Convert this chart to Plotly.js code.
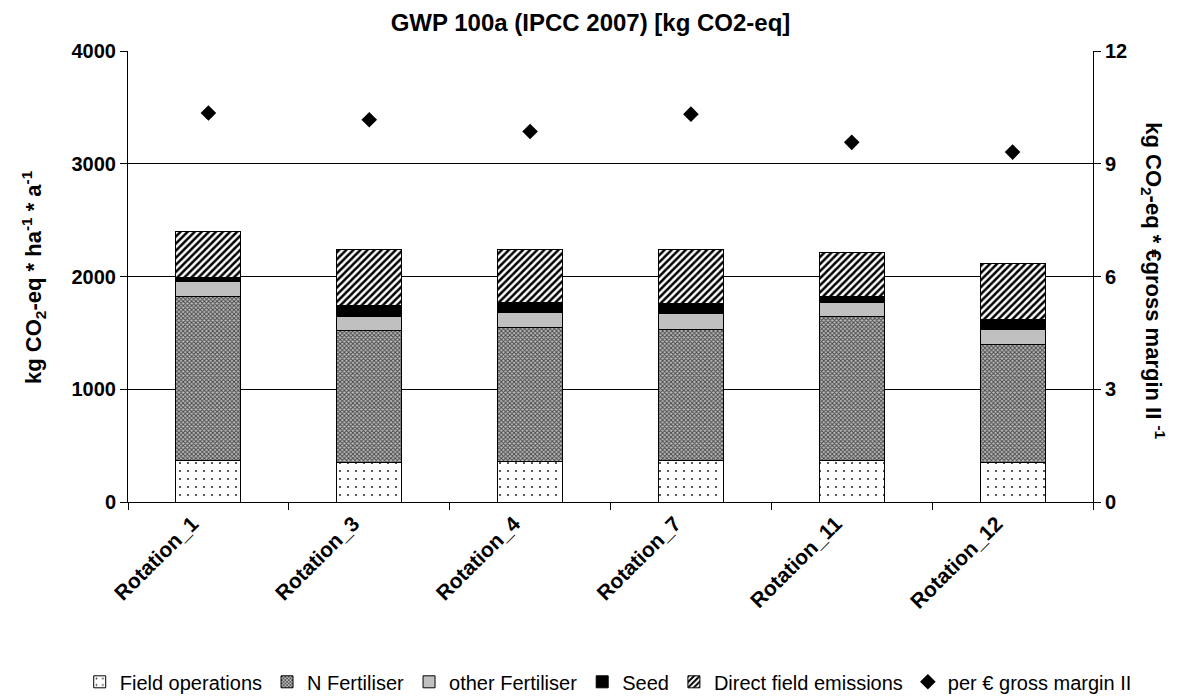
<!DOCTYPE html>
<html>
<head>
<meta charset="utf-8">
<script src="https://cdn.plot.ly/plotly-3.0.1.min.js"></script>
<style>html,body{margin:0;padding:0;background:#fff;}#chart{width:1181px;height:700px;}</style>
</head>
<body>
<div id="chart"></div>
<script>
const categories = ["Rotation_1","Rotation_3","Rotation_4","Rotation_7","Rotation_11","Rotation_12"];
const fieldOperations = [372, 352, 361, 364, 366, 346];
const nFertiliser = [1451, 1169, 1183, 1168, 1279, 1055];
const otherFertiliser = [133, 124, 139, 142, 124, 126];
const seed = [39, 95, 86, 89, 54, 89];
const directFieldEmissions = [404, 497, 473, 479, 390, 497];
const perGrossMargin = [10.35, 10.17, 9.86, 10.32, 9.57, 9.31];

const FONT = "Arial, 'Liberation Sans', sans-serif";
const barLine = {color: "#000", width: 1};

// page geometry: plot area spans x 128..1093, y 51..502
const W = 1181, H = 700, ML = 16, MR = 16;
const innerW = W - ML - MR;
const domX = [(128 - ML) / innerW, (1093 - ML) / innerW];

const traces = [
  {type: "bar", name: "Field operations", x: categories, y: fieldOperations,
   marker: {color: "#fff", line: barLine,
            pattern: {shape: ".", fgcolor: "#333", bgcolor: "#fff", size: 8, solidity: 0.06}}},
  {type: "bar", name: "N Fertiliser", x: categories, y: nFertiliser,
   marker: {color: "#777", line: barLine,
            pattern: {shape: "x", fgcolor: "#444", bgcolor: "#bbb", size: 3, solidity: 0.5}}},
  {type: "bar", name: "other Fertiliser", x: categories, y: otherFertiliser,
   marker: {color: "#c0c0c0", line: barLine}},
  {type: "bar", name: "Seed", x: categories, y: seed,
   marker: {color: "#000", line: barLine}},
  {type: "bar", name: "Direct field emissions", x: categories, y: directFieldEmissions,
   marker: {color: "#fff", line: barLine,
            pattern: {shape: "/", fgcolor: "#000", bgcolor: "#fff", size: 5, solidity: 0.5}}},
  {type: "scatter", mode: "markers", name: "per € gross margin II", x: categories, y: perGrossMargin,
   yaxis: "y2", marker: {symbol: "diamond", size: 12, color: "#000"}}
];

const layout = {
  width: W, height: H,
  margin: {l: ML, r: MR, t: 51, b: 198},
  paper_bgcolor: "#fff", plot_bgcolor: "#fff",
  font: {family: FONT, color: "#000", size: 18},
  barmode: "stack", bargap: 0.595,
  title: {text: "GWP 100a (IPCC 2007) [kg CO2-eq]", font: {family: FONT, size: 24, weight: "bold", color: "#000"},
          x: 0.5, xref: "container", xanchor: "center", y: 0.968, yref: "container", yanchor: "middle"},
  xaxis: {type: "category", domain: domX, tickson: "boundaries", ticks: "outside", ticklen: 7, tickcolor: "#000",
          showline: true, linecolor: "#000", linewidth: 1, showgrid: false, tickangle: -45,
          ticklabelstandoff: 0, ticklabelshift: -16,
          tickfont: {family: FONT, size: 21, weight: "bold", color: "#000"}},
  yaxis: {range: [0, 4000], tickvals: [0, 1000, 2000, 3000, 4000], ticks: "outside", ticklen: 7, tickcolor: "#000",
          showline: true, linecolor: "#000", linewidth: 1, showgrid: true, gridcolor: "#000", gridwidth: 1,
          zeroline: false, tickfont: {family: FONT, size: 20, weight: "bold", color: "#000"}},
  yaxis2: {range: [0, 12], tickvals: [0, 3, 6, 9, 12], overlaying: "y", side: "right", anchor: "x", ticks: "outside", ticklen: 7,
           tickcolor: "#000", showline: true, linecolor: "#000", linewidth: 1, showgrid: false, zeroline: false,
           tickfont: {family: FONT, size: 20, weight: "bold", color: "#000"}},
  legend: {orientation: "h", xref: "container", x: 0.515, xanchor: "center", yref: "container", y: 0.026, yanchor: "middle",
           traceorder: "normal", itemwidth: 30, font: {family: FONT, size: 20, color: "#000"}},
  showlegend: true,
  annotations: [
    {text: "kg CO<sub>2</sub>-eq * ha<sup>-1</sup> * a<sup>-1</sup>", textangle: -90, xref: "x domain", yref: "y domain",
     x: -0.098, y: 0.5, xanchor: "center", yanchor: "middle", showarrow: false,
     font: {family: FONT, size: 22, weight: "bold", color: "#000"}},
    {text: "kg CO<sub>2</sub>-eq * €gross margin II <sup>-1</sup>", textangle: 90, xref: "x domain", yref: "y domain",
     x: 1.063, y: 0.49, xanchor: "center", yanchor: "middle", showarrow: false,
     font: {family: FONT, size: 22, weight: "bold", color: "#000"}}
  ]
};

Plotly.newPlot("chart", traces, layout, {displayModeBar: false, staticPlot: true});
</script>
</body>
</html>
